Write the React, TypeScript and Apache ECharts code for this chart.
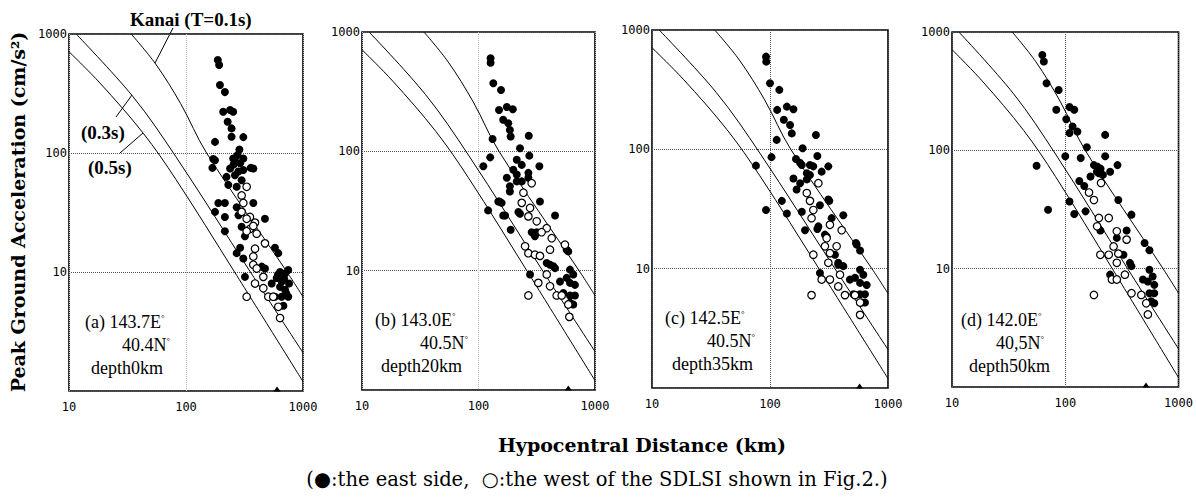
import React, { useEffect, useRef } from "react";
import * as echarts from "echarts";

// Kanai attenuation curves [hypocentral distance km, PGA cm/s^2]
const kanai01: number[][] = [[34, 1000], [55, 560], [90, 260], [150, 100], [730, 10], [1000, 6.2]];
const kanai03: number[][] = [[11.5, 1000], [35, 300], [82, 93], [355, 10], [1000, 2.1]];
const kanai05: number[][] = [[10, 710], [18.4, 387], [43, 147], [82, 60], [260, 10], [1000, 1.2]];

// Panel (a) 143.7E 40.4N depth 0km
const eastA: number[][] = [
  [187, 605], [192, 549], [195, 373], [215, 325], [208, 222], [238, 230], [253, 222], [227, 183], [245, 161],
  [245, 137], [309, 136], [177, 124], [286, 107], [171, 89], [309, 90], [262, 86], [357, 75], [168, 75],
  [177, 87], [253, 90], [290, 82], [238, 74], [309, 72], [262, 65], [222, 63], [299, 59], [376, 74], [230, 54],
  [271, 52], [189, 38], [215, 38], [376, 38], [177, 32], [271, 35], [281, 30], [215, 29], [473, 28], [299, 24],
  [215, 22], [319, 20], [290, 16], [576, 16], [271, 14.4], [615, 14.4], [309, 13], [444, 11.1], [473, 10.7],
  [636, 10], [702, 9.7], [748, 10.4], [596, 8.9], [657, 8.3], [636, 7.5], [702, 7.1], [576, 6.2], [657, 6.2],
  [748, 6.2], [680, 5.2], [319, 9.1], [540, 8.0], [275, 96], [255, 80], [280, 70], [690, 8.8], [760, 8.0],
  [720, 6.6], [610, 9.5],
];
const westA: number[][] = [
  [330, 52], [299, 44], [309, 38], [299, 32], [352, 29], [389, 26], [352, 23], [330, 22], [402, 21], [473, 17.4],
  [389, 15.7], [376, 13.5], [376, 11.5], [402, 10.7], [458, 9.1], [389, 8.0], [458, 7.3], [505, 6.2], [557, 6.2],
  [330, 6.2], [615, 5.1], [636, 4.1], [376, 24.4], [330, 28],
];

// Panel (b) 143.0E 40.5N depth 20km
const eastB: number[][] = [
  [127, 603], [127, 553], [134, 372], [156, 327], [150, 222], [175, 235], [197, 225], [163, 184], [180, 172],
  [186, 151], [189, 133], [270, 135], [132, 127], [227, 106], [273, 92], [126, 89], [110, 75], [213, 85],
  [235, 77], [199, 70], [333, 75], [268, 66], [175, 60], [213, 56], [186, 46], [151, 38], [337, 38], [121, 32],
  [163, 29], [227, 30], [454, 29], [189, 22], [316, 21], [590, 14.5], [277, 9.3], [385, 11.6], [439, 10.9],
  [186, 51], [235, 56], [213, 64], [268, 60], [148, 38], [158, 37], [169, 29], [220, 31], [286, 21], [305, 19.4],
  [571, 15], [411, 11.2], [454, 10.5], [610, 10.2], [651, 9.3], [571, 8.7], [610, 7.9], [673, 7.6], [501, 8.1],
  [535, 6.5], [610, 6.2], [673, 6.2], [610, 5.4], [651, 5.2],
];
const westB: number[][] = [
  [286, 54], [243, 45], [235, 37], [277, 33.5], [268, 28.5], [316, 25.9], [385, 22.7], [348, 21], [425, 18.7],
  [552, 16.5], [268, 14], [305, 13.6], [337, 13.3], [385, 9.3], [326, 7.9], [411, 7.4], [469, 6.2], [268, 6.2],
  [518, 6.2], [590, 5.2], [602, 4.1], [411, 15], [251, 16],
];

// Panel (c) 142.5E 40.5N depth 35km
const eastC: number[][] = [
  [92.5, 598], [93, 543], [100, 358], [120, 315], [115, 214], [139, 228], [158, 217], [131, 177], [148, 160],
  [153, 136], [245, 132], [114, 120], [189, 102], [252, 88], [103, 86], [76, 73], [166, 83], [186, 74], [218, 74],
  [312, 72], [158, 57], [205, 63], [274, 65], [180, 52], [126, 37], [318, 37], [92.5, 31], [139, 29], [186, 30],
  [418, 28], [198, 21], [252, 21.5], [302, 18.6], [535, 16.4], [580, 14.2], [355, 13.1], [379, 11.2], [265, 9.2],
  [418, 10.5], [180, 77], [233, 72], [168, 46], [205, 56], [218, 61], [312, 38], [265, 34], [257, 22.6],
  [292, 19.3], [333, 26.5], [543, 15.9], [379, 10.8], [580, 9.8], [618, 8.9], [525, 8.4], [580, 7.6], [660, 7.3],
  [476, 8.1], [508, 6.1], [580, 6.1], [638, 6.1], [598, 5.2], [638, 5.2],
];
const westC: number[][] = [
  [257, 52], [205, 43], [218, 37], [233, 31], [225, 26.5], [322, 23.3], [405, 21], [302, 18], [292, 15.4],
  [233, 13.1], [322, 13.5], [312, 11.2], [392, 8.9], [274, 8.1], [322, 8.1], [379, 7.1], [432, 6.0], [225, 6.0],
  [525, 6.0], [580, 5.2], [580, 4.1], [367, 15.4],
];

// Panel (d) 142.0E 40.5N depth 50km
const eastD: number[][] = [
  [62.7, 640], [64.7, 563], [68.3, 369], [87.4, 324], [83.3, 220], [109, 232], [120, 220], [102, 183], [116, 159],
  [109, 140], [128, 144], [225, 135], [100, 89], [155, 106], [137, 86], [179, 75], [225, 89], [289, 75], [198, 64],
  [249, 66], [55.8, 74], [133, 55], [147, 50], [109, 37], [294, 38], [70.5, 31.5], [120, 29], [151, 30.5],
  [384, 28.6], [204, 21], [348, 21], [285, 18.2], [501, 16.5], [553, 14.3], [326, 13.1], [372, 11.2], [249, 8.9],
  [384, 10.5], [553, 9.8], [591, 8.6], [536, 7.8], [611, 7.3], [485, 8.1], [553, 6.2], [611, 6.2], [573, 5.3],
  [611, 5.1], [167, 60], [191, 73], [205, 70], [215, 62], [190, 66],
];
const westD: number[][] = [
  [207, 53], [162, 44], [179, 38], [198, 26.8], [242, 26.8], [191, 22.8], [285, 20.7], [348, 17.6], [267, 15.4],
  [294, 13.4], [204, 13.1], [242, 13.1], [285, 11.2], [336, 8.9], [258, 8.1], [285, 8.1], [384, 6.2], [179, 6.0],
  [469, 6.0], [518, 5.1], [536, 4.1],
];

// small marks sitting on the lower axis
const axisMarks: number[] = [600, 590, 575, 516];

const eastAll = [eastA, eastB, eastC, eastD];
const westAll = [westA, westB, westC, westD];

const panelText: string[][] = [
  ["(a) 143.7E", "40.4N", "depth0km"],
  ["(b) 143.0E", "40.5N", "depth20km"],
  ["(c) 142.5E", "40.5N", "depth35km"],
  ["(d) 142.0E", "40,5N", "depth50km"],
];

const X_TICKS = [10, 100, 1000];
const Y_TICKS = [10, 100, 1000];

const grids = [
  { left: 69, top: 34, width: 234, height: 357 },
  { left: 362, top: 32, width: 233, height: 358 },
  { left: 652, top: 30, width: 236, height: 358 },
  { left: 952, top: 32, width: 231, height: 355 },
];
const textOffsets = [
  [16, 53, 22],
  [13, 58, 19],
  [13, 55, 20],
  [9, 44, 17],
];

export default function App() {
  const ref = useRef<HTMLDivElement>(null);
  useEffect(() => {
    if (!ref.current) return;
    const chart = echarts.init(ref.current, undefined, { renderer: "svg" });
    const serif = "'Liberation Serif', 'Times New Roman', serif";
    const mono = "'DejaVu Sans Mono', monospace";

    const series: any[] = [];
    grids.forEach((_, i) => {
      [kanai01, kanai03, kanai05].forEach((c) => {
        series.push({
          type: "line", xAxisIndex: i, yAxisIndex: i, data: c, symbol: "none", smooth: 0.35,
          lineStyle: { color: "#000", width: 1 }, silent: true, z: 2,
        });
      });
      series.push({
        type: "scatter", xAxisIndex: i, yAxisIndex: i, data: eastAll[i], symbol: "circle", symbolSize: 8,
        itemStyle: { color: "#000", opacity: 1 }, z: 3,
      });
      series.push({
        type: "scatter", xAxisIndex: i, yAxisIndex: i, data: westAll[i], symbol: "circle", symbolSize: 7.5,
        itemStyle: { color: "#fff", borderColor: "#000", borderWidth: 1.2, opacity: 1 }, z: 4,
      });
      series.push({
        type: "scatter", xAxisIndex: i, yAxisIndex: i, data: [[axisMarks[i], 1]], symbol: "triangle",
        symbolSize: [7, 5], symbolOffset: [0, -2], itemStyle: { color: "#000", opacity: 1 }, z: 5, clip: false,
      });
    });

    const graphic: any[] = [];
    const sup = { s: { fontSize: 9, fontFamily: "Liberation Serif", padding: [0, 0, 9, 0] } };
    grids.forEach((g, i) => {
      const o = textOffsets[i];
      const t = panelText[i];
      const ys = [g.top + 288, g.top + 311, g.top + 334];
      graphic.push({
        type: "text", x: g.left + o[0], y: ys[0],
        style: { text: t[0] + "{s|°}", font: `18px ${serif}`, fill: "#000", align: "left", verticalAlign: "middle", rich: sup },
      });
      graphic.push({
        type: "text", x: g.left + o[1], y: ys[1],
        style: { text: t[1] + "{s|°}", font: `18px ${serif}`, fill: "#000", align: "left", verticalAlign: "middle", rich: sup },
      });
      graphic.push({
        type: "text", x: g.left + o[2], y: ys[2],
        style: { text: t[2], font: `18px ${serif}`, fill: "#000", align: "left", verticalAlign: "middle" },
      });
    });
    // curve annotations on panel (a)
    graphic.push({ type: "text", x: 130, y: 19, style: { text: "Kanai (T=0.1s)", font: `bold 19px ${serif}`, fill: "#000", verticalAlign: "middle" } });
    graphic.push({ type: "line", shape: { x1: 173, y1: 28, x2: 155, y2: 63 }, style: { stroke: "#000", lineWidth: 1 } });
    graphic.push({ type: "text", x: 81, y: 132, style: { text: "(0.3s)", font: `bold 19px ${serif}`, fill: "#000", verticalAlign: "middle" } });
    graphic.push({ type: "line", shape: { x1: 116, y1: 117, x2: 132, y2: 95 }, style: { stroke: "#000", lineWidth: 1 } });
    graphic.push({ type: "text", x: 88, y: 167, style: { text: "(0.5s)", font: `bold 19px ${serif}`, fill: "#000", verticalAlign: "middle" } });
    graphic.push({ type: "line", shape: { x1: 120, y1: 153, x2: 143, y2: 133 }, style: { stroke: "#000", lineWidth: 1 } });
    // axis titles and caption
    graphic.push({
      type: "text", x: 18, y: 212, rotation: Math.PI / 2,
      style: { text: "Peak Ground Acceleration (cm/s²)", font: `bold 19px 'DejaVu Serif', serif`, fill: "#000", align: "center", verticalAlign: "middle" },
    });
    graphic.push({
      type: "text", x: 642, y: 445,
      style: { text: "Hypocentral Distance (km)", font: `bold 19px 'DejaVu Serif', serif`, fill: "#000", align: "center", verticalAlign: "middle" },
    });
    graphic.push({
      type: "text", x: 597, y: 479,
      style: { text: "(●:the east side,  ○:the west of the SDLSI shown in Fig.2.)", font: `19.5px 'DejaVu Serif', serif`, fill: "#000", align: "center", verticalAlign: "middle" },
    });

    chart.setOption({
      animation: false,
      backgroundColor: "#fff",
      grid: grids.map((g) => ({ ...g, show: true, borderColor: "#000", borderWidth: 1.6, backgroundColor: "transparent", containLabel: false })),
      xAxis: grids.map((_, i) => ({
        type: "log", logBase: 10, min: 10, max: 1000, gridIndex: i,
        axisLine: { show: false }, axisTick: { show: false },
        axisLabel: {
          fontFamily: mono, fontSize: 12, color: "#000", margin: 10,
          formatter: (v: number) => { const r = Math.round(v); return X_TICKS.includes(r) ? String(r) : ""; },
        },
        splitLine: { show: true, lineStyle: { type: "dotted", color: i < 2 ? "#bbb" : "#555", width: 1 } },
      })),
      yAxis: grids.map((_, i) => ({
        type: "log", logBase: 10, min: 1, max: 1000, gridIndex: i,
        axisLine: { show: false }, axisTick: { show: false },
        axisLabel: {
          fontFamily: mono, fontSize: 12, color: "#000", margin: 2,
          formatter: (v: number) => { const r = Math.round(v); return Y_TICKS.includes(r) ? String(r) : ""; },
        },
        splitLine: { show: true, lineStyle: { type: "dotted", color: "#555", width: 1 } },
      })),
      series,
      graphic,
    });
    return () => chart.dispose();
  }, []);
  return <div ref={ref} style={{ position: "fixed", left: 0, top: 0, width: 1196, height: 498 }} />;
}
